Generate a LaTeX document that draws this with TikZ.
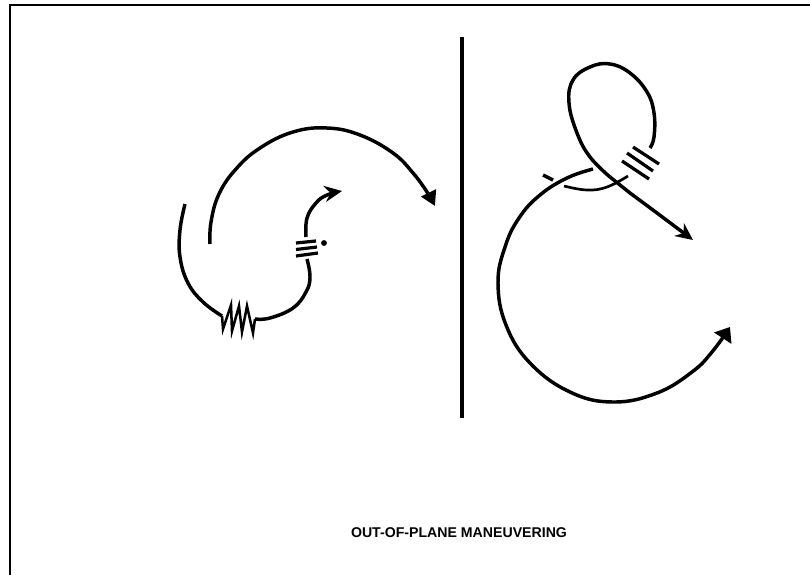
\documentclass[tikz,border=0pt]{standalone}
\usepackage{fontspec}
\setmainfont{Liberation Sans}
\usetikzlibrary{arrows.meta}
\tikzset{
    % Frame and divider
    frame line/.style={
        line width=1.5pt,
        color=black
    },
    divider/.style={
        line width=2.6pt,
        color=black
    },
    % Flight paths
    track/.style={
        line width=2.6pt,
        color=black,
        line cap=butt,
        line join=round
    },
    track arrow/.style={
        track,
        -{Triangle[length=11pt,width=12pt]}
    },
    track arrow blunt/.style={
        track,
        -{Triangle[length=10pt,width=15pt]}
    },
    track arrow small/.style={
        track,
        -{Stealth[length=13pt,width=12pt]}
    },
    thin track/.style={
        track,
        line width=2pt
    },
    % Thruster bars
    bar/.style={
        line width=2.4pt,
        color=black
    },
    caption/.style={
        font=\bfseries\fontsize{10.6}{12}\selectfont,
        text=black,
        inner sep=0pt
    }
}

\begin{document}
\begin{tikzpicture}[x=0.75pt,y=-0.75pt]
        \useasboundingbox (0,0) rectangle (810,575);

        % Frame
        \draw[frame line] (9.5,575) -- (9.5,5) -- (810,5);

        % Divider
        \draw[divider] (462,37) -- (462,418);

        % Left: outer arc
        \draw[track arrow] plot[smooth,tension=0.7] coordinates {(210,244) (211,222) (219,194) (236,169) (260,148) (293,132) (327,128) (360,135) (393,153) (413,173) (427,192) (435,206)};

        % Left: inner path with spring
        \draw[track] plot[smooth,tension=0.7] coordinates {(185,204) (180,230) (180,257) (188,283) (203,302) (222,316)};
        \draw[line width=1.9pt, line join=miter] (222,316) -- (223,329) -- (231,305) -- (232,331) -- (239,306) -- (242,332) -- (247,306) -- (253,333) -- (255,319);
        \draw[track] plot[smooth,tension=0.7] coordinates {(255,319) (270,318) (293,308) (306,292) (310,277) (307,259)};

        % Left: bars, dot, arrow
        \draw[bar] (296,243) -- (316,241);
        \draw[bar] (296,249.500) -- (317,247);
        \draw[bar] (296,256) -- (318,253);
        \fill (324,243) circle (2.2pt);
        \draw[track arrow small] plot[smooth,tension=0.7] coordinates {(306,237) (307,218) (316,203) (327,195) (342,191)};

        % Right: loop
        \draw[track] plot[smooth,tension=0.7] coordinates {(650,148) (654,137) (654,113) (647,92) (630,73) (610,64) (590,67) (573,80) (569,103) (577,133) (590,157) (610,177)};
        \draw[track arrow small] (610,177) -- (630,193) -- (657,213) -- (693,240);

        % Right: bars
        \draw[bar] (633,147) -- (659,164);
        \draw[bar] (627,153) -- (653,171);
        \draw[bar] (622,161) -- (649,179);

        % Right: small arc and tick
        \draw[thin track] plot[smooth,tension=0.7] coordinates {(564,186) (587,190) (607,187) (628,176)};
        \draw[track] (543,175) -- (553,180);

        % Right: big circle
        \draw[track arrow blunt] plot[smooth,tension=0.7] coordinates {(593,169) (567,178) (540,195) (519,218) (505,247) (498,283) (506,325) (530,363) (570,392) (613,402) (657,393) (692,372) (712,352) (730,327)};

        % Caption
        \node[caption] (title) at (459,532.500) {OUT-OF-PLANE MANEUVERING};
    \end{tikzpicture}
\end{document}
